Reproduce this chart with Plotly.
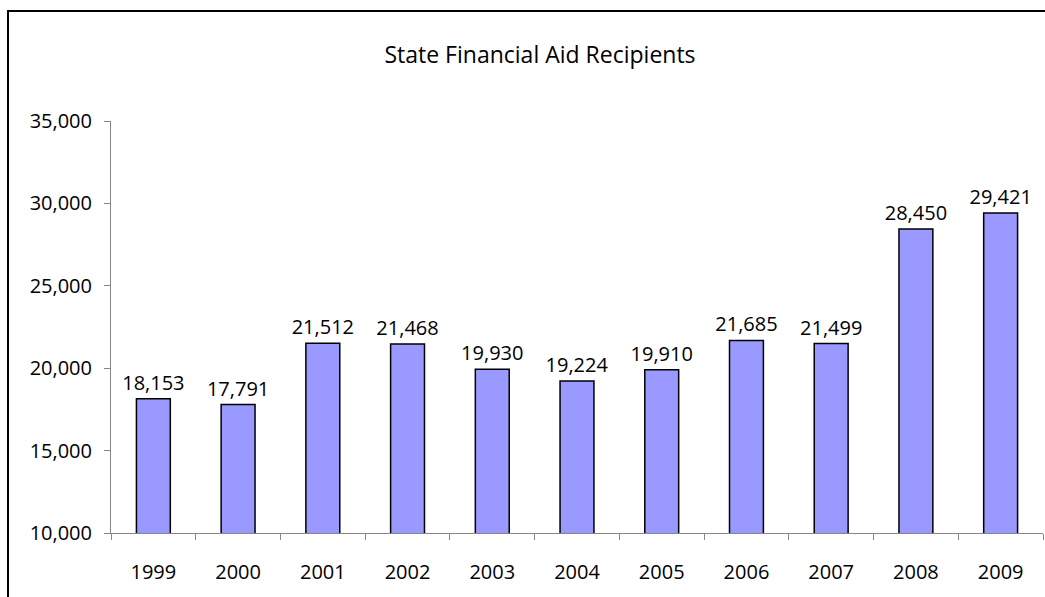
import plotly.graph_objects as go

years = ["1999", "2000", "2001", "2002", "2003", "2004", "2005", "2006", "2007", "2008", "2009"]
recipients = [18153, 17791, 21512, 21468, 19930, 19224, 19910, 21685, 21499, 28450, 29421]
y_ticks = [10000, 15000, 20000, 25000, 30000, 35000]

W, H = 1045, 597
L, R, T, B = 111, 2, 121, 64
pw, ph = W - L - R, H - T - B

font = "'Open Sans', Calibri, sans-serif"
fs = 20

fig = go.Figure(go.Bar(
    x=years, y=recipients,
    marker=dict(color="#9999FF", line=dict(color="black", width=1.5)),
    width=0.4,
    text=[f"{v:,}" for v in recipients],
    textposition="outside",
    constraintext="none",
    textfont=dict(family=font, size=fs, color="black"),
    cliponaxis=False,
))

fig.update_layout(
    width=W, height=H,
    margin=dict(l=L, r=R, t=T, b=B),
    plot_bgcolor="white", paper_bgcolor="white",
    showlegend=False,
    title=dict(text="State Financial Aid Recipients", x=540 / W, xanchor="center",
               y=1 - 55 / H, yanchor="middle",
               font=dict(family=font, size=23, color="black")),
    xaxis=dict(showline=True, linecolor="#868686", linewidth=1,
               ticks="outside", ticklen=6, tickwidth=1, tickcolor="#868686", tickson="boundaries",
               tickfont=dict(family=font, size=fs, color="black"),
               ticklabelstandoff=21,
               showgrid=False),
    yaxis=dict(range=[10000, 35000], tickvals=y_ticks,
               ticktext=[f"{v:,}" for v in y_ticks],
               showline=True, linecolor="#868686", linewidth=1,
               ticks="outside", ticklen=6, tickcolor="#868686",
               tickfont=dict(family=font, size=fs, color="black"),
               showgrid=False, zeroline=False, ticklabelstandoff=8),
)

fig.add_shape(type="rect", xref="paper", yref="paper",
              x0=(8 - L) / pw, x1=(W + 20 - L) / pw,
              y0=-(H + 20 - (T + ph)) / ph, y1=(H - B - 11) / ph,
              line=dict(color="black", width=2), fillcolor="rgba(0,0,0,0)", layer="above")

fig.write_html("out.html")
